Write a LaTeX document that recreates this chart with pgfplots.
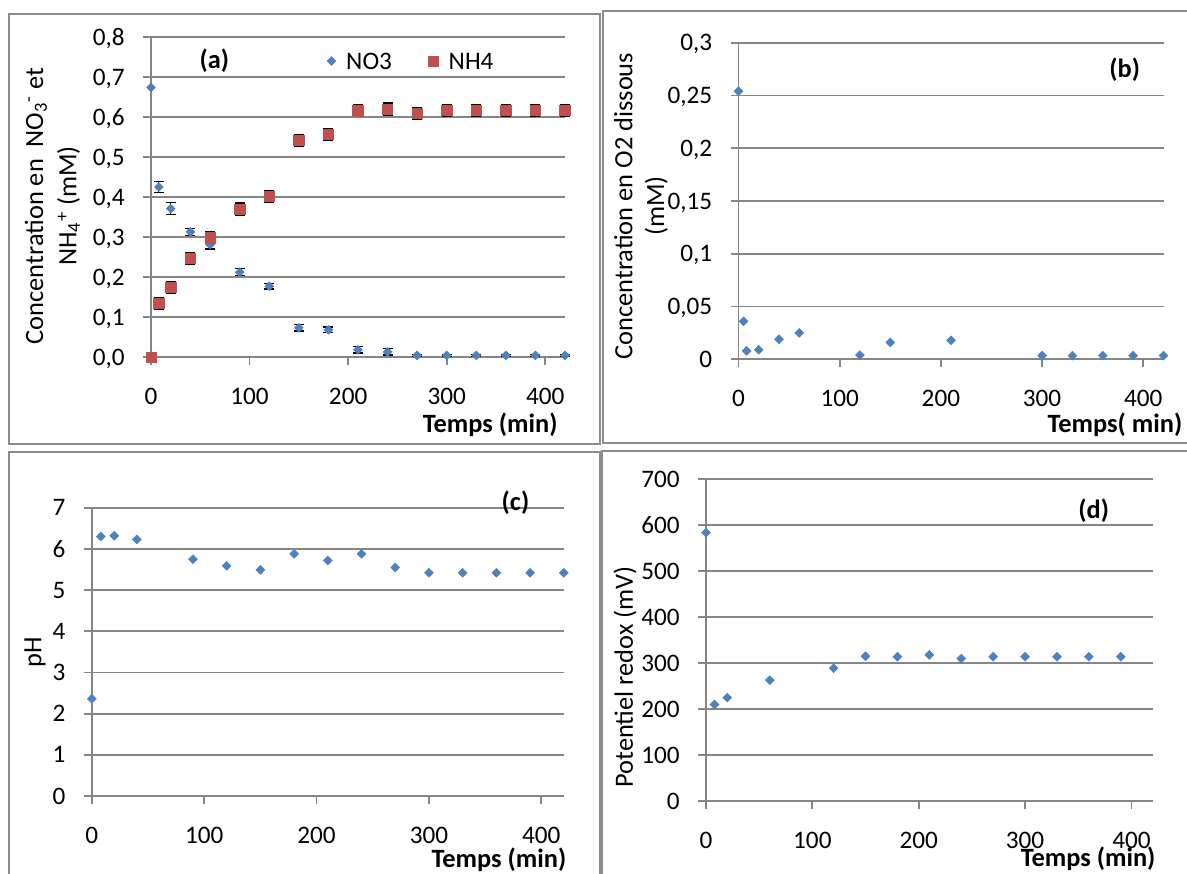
\documentclass[border=0pt]{standalone}
\usepackage{fontspec}
\setmainfont{Carlito}
\usepackage{pgfplots}
\pgfplotsset{compat=1.18}

\definecolor{xblue}{RGB}{79,129,189}
\definecolor{xred}{RGB}{192,80,77}
\definecolor{xgrid}{RGB}{134,134,134}
\definecolor{xframe}{RGB}{140,140,140}

\newcommand{\tickfont}{\fontsize{12.6}{15}\selectfont}
\newcommand{\labfont}{\fontsize{13.2}{16.4}\selectfont}

\pgfplotsset{
  excel/.style={
    scale only axis,
    axis lines=left,
    axis line style={-, draw=xgrid, line width=0.9pt},
    ymajorgrids,
    grid style={draw=xgrid, line width=0.9pt},
    tick align=outside,
    major tick length=4pt,
    tick style={draw=xgrid, line width=0.9pt},
    xmin=0, xmax=420,
    xtick={0,100,200,300,400},
    tick label style={font=\tickfont},
    /pgf/number format/assume math mode=true,
    xticklabel style={inner sep=0pt, text depth=0pt, anchor=north},
    yticklabel style={inner sep=0pt, text depth=0pt, anchor=east},
    xticklabel shift=11.3pt,
    yticklabel shift=9pt,
    clip=false,
    xlabel style={font=\labfont\bfseries, anchor=east, inner sep=0pt},
    ylabel style={font=\labfont, anchor=center, align=center, inner sep=0pt},
  },
  dia/.style={only marks, mark=square*, mark size=1.55pt,
    mark options={rotate=45, fill=xblue, draw=xblue, line width=0.3pt},
    legend image code/.code={\draw[##1] plot coordinates {(0pt,0pt)};}},
  sq/.style={only marks, mark=square*, mark size=2.6pt,
    mark options={fill=xred, draw=xred, line width=0.3pt},
    legend image code/.code={\draw[##1] plot coordinates {(0pt,0pt)};}},
  eb/.style={error bars/.cd, y dir=both, y explicit,
    error bar style={black, line width=0.6pt},
    error mark options={rotate=90, black, mark size=2.5pt, line width=0.6pt}},
}

\begin{document}
\begin{tikzpicture}
\useasboundingbox (0,0) rectangle (593.5pt,-436.5pt);
\begin{scope}
\clip (0,0) rectangle (593.5pt,-436.5pt);
\draw[xframe, line width=1pt] (4.5pt,-7pt) rectangle (300pt,-222pt);
\draw[xframe, line width=1pt] (301.5pt,-5.5pt) rectangle (597pt,-221.5pt);
\draw[xframe, line width=1pt] (4.5pt,-226pt) rectangle (300pt,-440pt);
\draw[xframe, line width=1pt] (301pt,-225.5pt) rectangle (597pt,-440pt);
\end{scope}

% (a)
\begin{axis}[excel,
  at={(75.5pt,-178.5pt)}, anchor=south west,
  width=207pt, height=160pt,
  ymin=0, ymax=0.8,
  ytick={0,0.1,0.2,0.3,0.4,0.5,0.6,0.7,0.8},
  yticklabel style={/pgf/number format/.cd, fixed, fixed zerofill, precision=1, use comma},
  xlabel={Temps (min)},
  xlabel style={at={(axis description cs:0.983,-0.2125)}},
  ylabel={Concentration en\ \ NO\textsubscript{3}\textsuperscript{-} et\\NH\textsubscript{4}\textsuperscript{+} (mM)},
  ylabel style={at={(axis description cs:-0.238,0.472)}, font=\fontsize{13.2}{16.7}\selectfont},
  legend columns=2,
  legend style={at={(axis cs:178.2,0.74)}, anchor=west, draw=none, fill=none, inner sep=0pt,
    nodes={inner sep=0pt, anchor=west, text depth=0pt, font=\tickfont},
    /tikz/every odd column/.append style={column sep=5.2pt},
    /tikz/every even column/.append style={column sep=18pt}},
]
\addplot[dia, forget plot] table[x=t, y=v] {
t v
0 0.674
};
\addplot[dia, eb] table[x=t, y=v, y error=e] {
t v e
8 0.425 0.013
20 0.371 0.0145
40 0.313 0.009
60 0.281 0.011
90 0.212 0.009
120 0.177 0.007
150 0.073 0.008
180 0.068 0.007
210 0.018 0.008
240 0.013 0.008
270 0.004 0.003
300 0.004 0.003
330 0.004 0.003
360 0.004 0.003
390 0.004 0.003
420 0.004 0.003
};
\addlegendentry{NO3}
\addplot[sq, forget plot] table[x=t, y=v] {
t v
0 0.000
};
\addplot[sq, eb] table[x=t, y=v, y error=e] {
t v e
8 0.134 0.015
20 0.174 0.015
40 0.247 0.015
60 0.298 0.015
90 0.370 0.015
120 0.402 0.015
150 0.542 0.015
180 0.557 0.015
210 0.616 0.015
240 0.620 0.015
270 0.609 0.015
300 0.617 0.015
330 0.617 0.015
360 0.617 0.015
390 0.617 0.015
420 0.617 0.015
};
\addlegendentry{NH4}
\node[font=\labfont\bfseries, inner sep=0pt] at (axis cs:64.2,0.74) {(a)};
\end{axis}

% (b)
\begin{axis}[excel,
  at={(369.25pt,-179.65pt)}, anchor=south west,
  width=212.5pt, height=158.3pt,
  ymin=0, ymax=0.3,
  ytick={0,0.05,0.1,0.15,0.2,0.25,0.3},
  yticklabel style={/pgf/number format/.cd, fixed, precision=2, use comma},
  xlabel={Temps( min)},
  xlabel style={at={(axis description cs:1.045,-0.2075)}},
  ylabel={Concentration en O2 dissous\\(mM)},
  ylabel style={at={(axis description cs:-0.2294,0.484)}, font=\fontsize{13.2}{15.9}\selectfont},
]
\addplot[dia] table[x=t, y=v] {
t v
0 0.254
5 0.036
8 0.008
20 0.009
40 0.019
60 0.025
120 0.004
150 0.016
210 0.018
300 0.0035
330 0.0035
360 0.0035
390 0.0035
420 0.0035
};
\node[font=\labfont\bfseries, inner sep=0pt] at (axis cs:381.6,0.274) {(b)};
\end{axis}

% (c)
\begin{axis}[excel,
  at={(45.9pt,-398pt)}, anchor=south west,
  width=236pt, height=144.15pt,
  ymin=0, ymax=7,
  ytick={0,1,2,3,4,5,6,7},
  xlabel={Temps (min)},
  xlabel style={at={(axis description cs:1.006,-0.222)}},
  ylabel={pH},
  ylabel style={at={(axis description cs:-0.1203,0.4995)}},
]
\addplot[dia] table[x=t, y=v] {
t v
0 2.36
8 6.30
20 6.32
40 6.23
90 5.75
120 5.59
150 5.49
180 5.88
210 5.72
240 5.88
270 5.55
300 5.42
330 5.42
360 5.42
390 5.42
420 5.42
};
\node[font=\labfont\bfseries, inner sep=0pt] at (axis cs:377,7.11) {(c)};
\end{axis}

% (d)
\begin{axis}[excel,
  at={(353pt,-400.5pt)}, anchor=south west,
  width=223.35pt, height=160.85pt,
  ymin=0, ymax=700,
  ytick={0,100,200,300,400,500,600,700},
  xlabel={Temps (min)},
  xlabel style={at={(axis description cs:1.007,-0.18)}},
  ylabel={Potentiel redox (mV)},
  ylabel style={at={(axis description cs:-0.1813,0.3855)}},
]
\addplot[dia] table[x=t, y=v] {
t v
0 584
8 210
20 225
60 263
120 289
150 315
180 314
210 318
240 310
270 314
300 314
330 314
360 314
390 314
};
\node[font=\labfont\bfseries, inner sep=0pt] at (axis cs:364.5,631.6) {(d)};
\end{axis}
\end{tikzpicture}
\end{document}
